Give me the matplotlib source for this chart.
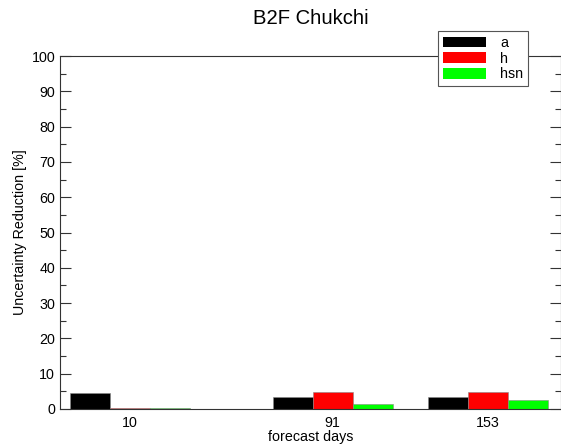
import numpy as np
import matplotlib
matplotlib.use("Agg")
from matplotlib import pyplot as plt
from matplotlib.ticker import MultipleLocator

# data
days = [10, 91, 153]
series = ["a", "h", "hsn"]
vals_a = [4.5, 3.4, 3.3]
vals_h = [0.3, 4.8, 4.8]
vals_hsn = [0.3, 1.5, 2.6]

colors = ["black", "red", "#00ff00"]
barw = 16.0

plt.rcParams["font.family"] = ["Liberation Sans", "DejaVu Sans"]

fig = plt.figure(figsize=(5.61, 4.47), dpi=100)
ax = fig.add_axes([60/561, 1-409/447, 501/561, 353/447])

x = np.array(days, dtype=float)
for k, (name, v) in enumerate(zip(series, [vals_a, vals_h, vals_hsn])):
    ax.bar(x + (k - 1)*barw, v, width=barw, color=colors[k],
           edgecolor="#888888", linewidth=0.4, label=name)

ax.set_xlim(-18, 182.4)
ax.set_ylim(0, 100)
ax.set_xticks(days)
ax.set_xticklabels([str(d) for d in days])
ax.yaxis.set_major_locator(MultipleLocator(10))
ax.yaxis.set_minor_locator(MultipleLocator(5))
ax.tick_params(axis="y", which="major", direction="in", length=8, width=0.8,
               right=True, labelsize=10.3, colors="#333333", labelcolor="black")
ax.tick_params(axis="y", which="minor", direction="in", length=4, width=0.8,
               right=True, colors="#333333")
ax.tick_params(axis="x", length=0, labelsize=10.3, pad=5)

for s in ax.spines.values():
    s.set_linewidth(0.8)
    s.set_color("#333333")

ax.set_xlabel("forecast days", fontsize=10.3, labelpad=0)
ax.set_ylabel("Uncertainty Reduction [%]", fontsize=10.3, labelpad=3)
fig.text(311/561, 1-19/447, "B2F Chukchi", ha="center", va="center", fontsize=14.6)

leg = ax.legend(loc="upper left", bbox_to_anchor=(438/561, 1-31/447),
                bbox_transform=fig.transFigure, borderaxespad=0,
                fontsize=10.3, handlelength=3.0, handleheight=0.75,
                handletextpad=1.0, labelspacing=0.12, borderpad=0.35,
                fancybox=False, framealpha=1, edgecolor="#555555")
leg.get_frame().set_linewidth(0.8)
for p in leg.get_patches():
    p.set_edgecolor("none")

fig.savefig("out.png", dpi=100)
